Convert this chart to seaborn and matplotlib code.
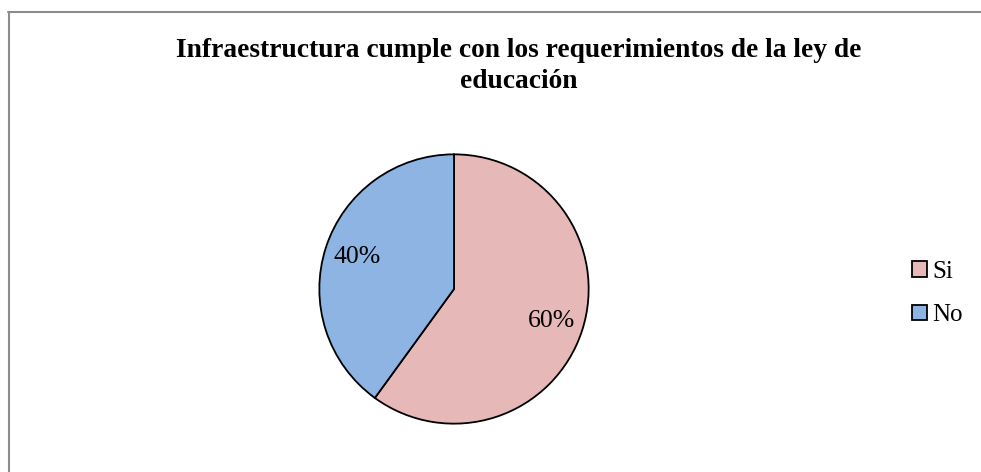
import matplotlib
matplotlib.use("Agg")
import matplotlib.pyplot as plt
from matplotlib.lines import Line2D
import seaborn as sns

categories = ["Si", "No"]
values = [60, 40]
colors = ["#E6B9B8", "#8EB4E3"]
title = "Infraestructura cumple con los requerimientos de la ley de\neducación"

sns.set_theme(style="white")
plt.rcParams['font.family'] = ['Liberation Serif', 'DejaVu Serif']

W, H = 981, 472
fig = plt.figure(figsize=(W / 100, H / 100), dpi=100)
fig.patch.set_facecolor("white")

cx, cy, r = 454, 289, 136
ax = fig.add_axes([(cx - r) / W, (H - cy - r) / H, 2 * r / W, 2 * r / H])
wedges, texts, autotexts = ax.pie(
    values, colors=colors, startangle=90, counterclock=False,
    autopct=lambda p: f"{p:.0f}%", pctdistance=0.76,
    wedgeprops=dict(edgecolor="black", linewidth=1.3),
    textprops=dict(fontsize=18.5, color="black"),
)
ax.set_xlim(-1.01, 1.01)
ax.set_ylim(-1.01, 1.01)
ax.set_aspect("equal")
ax.axis("off")

fig.text(519 / W, 1 - 38 / H, title, ha="center", va="top",
         fontsize=19.8, fontweight="bold", linespacing=1.3, color="black")

leg = fig.legend(wedges, categories, loc="upper left",
                 bbox_to_anchor=(902 / W, 1 - 251 / H), frameon=False,
                 fontsize=18, handlelength=0.6, handleheight=0.6,
                 handletextpad=0.2, labelspacing=0.85, borderaxespad=0)
for t in leg.get_texts():
    t.set_color("black")

fig.add_artist(Line2D([8 / W, 1], [1 - 12 / H, 1 - 12 / H],
                      transform=fig.transFigure, color="#8c8c8c", linewidth=1.5))
fig.add_artist(Line2D([8.5 / W, 8.5 / W], [0, 1 - 12 / H],
                      transform=fig.transFigure, color="#8c8c8c", linewidth=1.5))

fig.savefig("out.png", dpi=100, facecolor="white")
